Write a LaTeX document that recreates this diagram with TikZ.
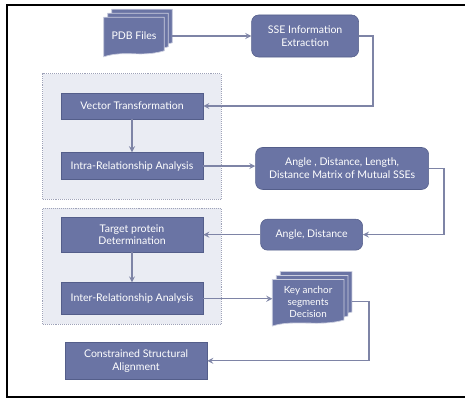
\documentclass[tikz,border=0pt]{standalone}
\usepackage{fontspec}
\setmainfont{Lato}
\usepackage{xcolor}
\usepackage{tikz}
\usetikzlibrary{arrows, positioning, fit, calc, backgrounds}
\definecolor{boxblue}{RGB}{106,116,164}
\definecolor{boxedge}{RGB}{84,94,138}
\definecolor{linkgray}{RGB}{126,132,166}
\definecolor{groupfill}{RGB}{234,236,243}
\definecolor{groupedge}{RGB}{158,162,184}

% one sheet of a document stack, shifted behind a node (px units)
\newcommand{\docsheet}[3]{%
  \draw[sheet] ([shift={(#2,#3)}]#1.north west) -- ([shift={(#2,#3)}]#1.north east)
    -- ([shift={(#2,#3-4)}]#1.south east) .. controls +(-24,7) and +(22,-7) .. ([shift={(#2,#3+2)}]#1.south west) -- cycle;}

\begin{document}
\begin{tikzpicture}[
    x=0.025cm, y=-0.025cm,
    stepbox/.style={rectangle, draw=boxedge, fill=boxblue, text=white, align=center, inner sep=2pt, minimum width=3.55cm, font=\fontsize{7.5}{9}\selectfont},
    roundbox/.style={stepbox, rounded corners=5pt},
    sheetnode/.style={rectangle, text=white, align=center, inner sep=2pt, font=\fontsize{7}{8.5}\selectfont},
    sheet/.style={fill=boxblue, draw=white!65!boxblue, line width=0.5pt},
    groupbox/.style={rectangle, draw=groupedge, densely dotted, fill=groupfill, inner xsep=0.45cm},
    link/.style={draw=linkgray, line width=0.9pt, ->, >=stealth}
]
\useasboundingbox (0,0) rectangle (465,401);
\draw[line width=1.4pt] (466,5) -- (7,5) -- (7,397) -- (466,397);

\node[sheetnode, minimum width=1.5cm, minimum height=0.925cm, font=\fontsize{7.5}{9}\selectfont] (pdb) at (134,36) {PDB Files};
\node[roundbox, minimum width=2.675cm, minimum height=1.05cm, right=2.175cm of pdb] (sse) {SSE Information\\Extraction};

\node[stepbox, minimum height=0.65cm] (vec) at (132,106) {Vector Transformation};
\node[stepbox, minimum height=0.675cm, below=0.825cm of vec] (intra) {Intra-Relationship Analysis};
\node[stepbox, minimum height=0.875cm, below=0.925cm of intra] (target) {Target protein\\Determination};
\node[stepbox, minimum height=0.8cm, below=0.75cm of target] (inter) {Inter-Relationship Analysis};
\node[stepbox, minimum height=0.925cm, below=0.675cm of inter, xshift=0.1cm] (constr) {Constrained Structural\\Alignment};

\node[roundbox, minimum width=4.325cm, minimum height=1.05cm, right=1.3cm of intra, yshift=-0.06cm] (matrix) {Angle , Distance, Length,\\Distance Matrix of Mutual SSEs};
\node[roundbox, minimum width=2.55cm, minimum height=0.775cm, right=1.425cm of target] (angdist) {Angle, Distance};
\node[sheetnode, minimum width=1.775cm, minimum height=1.1cm, right=1.725cm of inter, yshift=-0.075cm] (key) {Key anchor\\segments\\Decision};

\draw[link] ([xshift=0.2cm]pdb.east) -- (sse.west);
\draw[link] (sse.east) -- ++(14,0) |- (vec.east);
\draw[link] (vec) -- (intra);
\draw[link] (intra.east) -- (intra.east -| matrix.west);
\draw[link] (matrix.east) -- ++(15,0) |- (angdist.east);
\draw[link] (angdist.west) -- (angdist.west -| target.east);
\draw[link] (target) -- (inter);
\draw[link] (inter.east) -- (key.west |- inter.east);
\draw[link] ([xshift=0.2cm]key.east) -- ++(17,0) |- (constr.east);

\begin{scope}[on background layer]
\node[groupbox, fit=(vec)(intra), inner ysep=0.475cm] (grpintra) {};
\node[groupbox, fit=(target)(inter), inner ysep=0.225cm] (grpinter) {};
\docsheet{pdb}{8}{-8}
\docsheet{pdb}{4}{-4}
\docsheet{pdb}{0}{0}
\docsheet{key}{8}{-8}
\docsheet{key}{4}{-4}
\docsheet{key}{0}{0}
\end{scope}
\end{tikzpicture}
\end{document}
